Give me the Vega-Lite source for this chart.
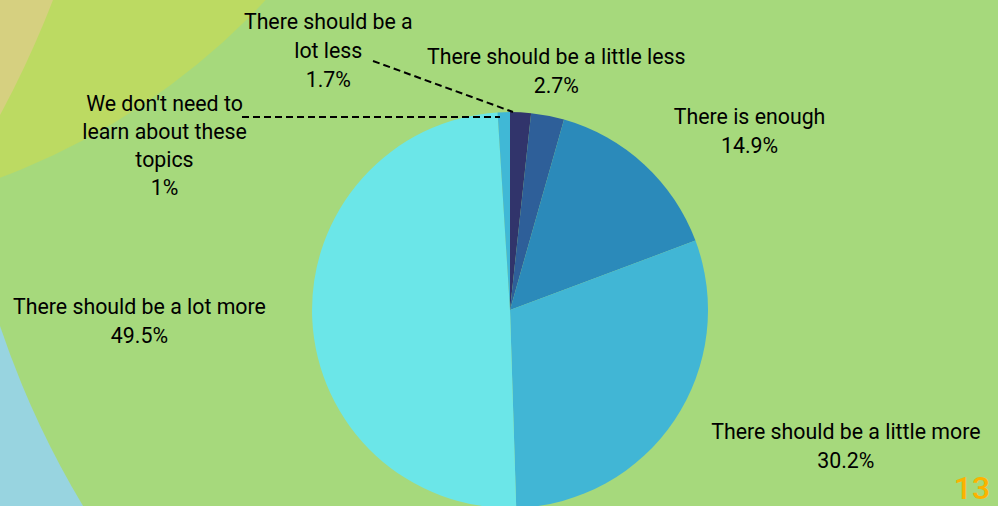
{
  "$schema": "https://vega.github.io/schema/vega-lite/v6.json",
  "width": 976,
  "height": 392,
  "autosize": "none",
  "padding": {"left": 22, "top": 114, "right": 0, "bottom": 0},
  "background": "#98d4e0",
  "config": {"view": {"stroke": null}, "font": "Roboto"},
  "datasets": {
    "answers": [
      {"rank": 1, "answer": "There should be a lot less", "percent": 1.7, "label": "There should be a\nlot less\n1.7%"},
      {"rank": 2, "answer": "There should be a little less", "percent": 2.7, "label": "There should be a little less\n2.7%"},
      {"rank": 3, "answer": "There is enough", "percent": 14.9, "label": "There is enough\n14.9%"},
      {"rank": 4, "answer": "There should be a little more", "percent": 30.2, "label": "There should be a little more\n30.2%"},
      {"rank": 5, "answer": "There should be a lot more", "percent": 49.5, "label": "There should be a lot more\n49.5%"},
      {"rank": 6, "answer": "We don't need to learn about these topics", "percent": 1, "label": "We don't need to\nlearn about these\ntopics\n1%"}
    ],
    "single": [{}]
  },
  "layer": [
    {
      "data": {"name": "single"},
      "mark": {"type": "arc", "x": 849, "y": -81, "radius": 919, "theta": 0, "theta2": 6.2832, "fill": "#a6d97c"},
      "encoding": {}
    },
    {
      "data": {"name": "single"},
      "mark": {"type": "arc", "x": -266, "y": -588, "radius": 696, "theta": 0, "theta2": 6.2832, "fill": "#bcda62"},
      "encoding": {}
    },
    {
      "data": {"name": "single"},
      "mark": {"type": "arc", "x": -902, "y": -474, "radius": 1000, "theta": 0, "theta2": 6.2832, "fill": "#d6d080"},
      "encoding": {}
    },
    {
      "data": {"name": "answers"},
      "mark": {"type": "arc", "outerRadius": 198, "strokeWidth": 0},
      "encoding": {
        "theta": {"field": "percent", "type": "quantitative", "stack": true},
        "order": {"field": "rank", "type": "quantitative", "sort": "ascending"},
        "color": {
          "field": "answer",
          "type": "nominal",
          "scale": {
            "domain": ["There should be a lot less", "There should be a little less", "There is enough", "There should be a little more", "There should be a lot more", "We don't need to learn about these topics"],
            "range": ["#31346b", "#2e5f99", "#2b8aba", "#41b6d5", "#6be6e8", "#40b8d6"]
          },
          "legend": null
        }
      }
    },
    {
      "data": {"name": "single"},
      "mark": {"type": "rule", "stroke": "#000000", "strokeWidth": 2, "strokeDash": [7, 4]},
      "encoding": {"x": {"value": 351}, "y": {"value": -53}, "x2": {"value": 491}, "y2": {"value": -2}}
    },
    {
      "data": {"name": "single"},
      "mark": {"type": "rule", "stroke": "#000000", "strokeWidth": 2, "strokeDash": [7, 4]},
      "encoding": {"x": {"value": 220}, "y": {"value": 3}, "x2": {"value": 478}, "y2": {"value": 3}}
    },
    {
      "data": {"name": "answers"},
      "mark": {"type": "text", "radius": 249, "dx": -195, "dy": -38, "align": "center", "baseline": "middle", "fontSize": 21.33, "lineHeight": 29, "lineBreak": "\n", "color": "#000000"},
      "encoding": {
        "theta": {"field": "percent", "type": "quantitative", "stack": true},
        "order": {"field": "rank", "type": "quantitative", "sort": "ascending"},
        "text": {"condition": {"test": "datum.rank === 1", "field": "label", "type": "nominal"}, "value": ""}
      }
    },
    {
      "data": {"name": "answers"},
      "mark": {"type": "text", "radius": 243, "dx": 0, "dy": -13, "align": "center", "baseline": "middle", "fontSize": 21.33, "lineHeight": 29, "lineBreak": "\n", "color": "#000000"},
      "encoding": {
        "theta": {"field": "percent", "type": "quantitative", "stack": true},
        "order": {"field": "rank", "type": "quantitative", "sort": "ascending"},
        "text": {"condition": {"test": "datum.rank === 2", "field": "label", "type": "nominal"}, "value": ""}
      }
    },
    {
      "data": {"name": "answers"},
      "mark": {"type": "text", "radius": 293, "dx": 41, "dy": 23, "align": "center", "baseline": "middle", "fontSize": 21.33, "lineHeight": 29, "lineBreak": "\n", "color": "#000000"},
      "encoding": {
        "theta": {"field": "percent", "type": "quantitative", "stack": true},
        "order": {"field": "rank", "type": "quantitative", "sort": "ascending"},
        "text": {"condition": {"test": "datum.rank === 3", "field": "label", "type": "nominal"}, "value": ""}
      }
    },
    {
      "data": {"name": "answers"},
      "mark": {"type": "text", "radius": 355, "dx": 41, "dy": -75, "align": "center", "baseline": "middle", "fontSize": 21.33, "lineHeight": 29, "lineBreak": "\n", "color": "#000000"},
      "encoding": {
        "theta": {"field": "percent", "type": "quantitative", "stack": true},
        "order": {"field": "rank", "type": "quantitative", "sort": "ascending"},
        "text": {"condition": {"test": "datum.rank === 4", "field": "label", "type": "nominal"}, "value": ""}
      }
    },
    {
      "data": {"name": "answers"},
      "mark": {"type": "text", "radius": 371, "dx": 0, "dy": -19, "align": "center", "baseline": "middle", "fontSize": 21.33, "lineHeight": 29, "lineBreak": "\n", "color": "#000000"},
      "encoding": {
        "theta": {"field": "percent", "type": "quantitative", "stack": true},
        "order": {"field": "rank", "type": "quantitative", "sort": "ascending"},
        "text": {"condition": {"test": "datum.rank === 5", "field": "label", "type": "nominal"}, "value": ""}
      }
    },
    {
      "data": {"name": "answers"},
      "mark": {"type": "text", "radius": 175, "dx": -340, "dy": -30, "align": "center", "baseline": "middle", "fontSize": 21.33, "lineHeight": 28, "lineBreak": "\n", "color": "#000000"},
      "encoding": {
        "theta": {"field": "percent", "type": "quantitative", "stack": true},
        "order": {"field": "rank", "type": "quantitative", "sort": "ascending"},
        "text": {"condition": {"test": "datum.rank === 6", "field": "label", "type": "nominal"}, "value": ""}
      }
    },
    {
      "data": {"name": "single"},
      "mark": {"type": "text", "x": 950, "y": 392, "text": "13", "align": "center", "baseline": "bottom", "fontSize": 32, "fontWeight": 500, "color": "#fbb300"},
      "encoding": {}
    }
  ]
}
